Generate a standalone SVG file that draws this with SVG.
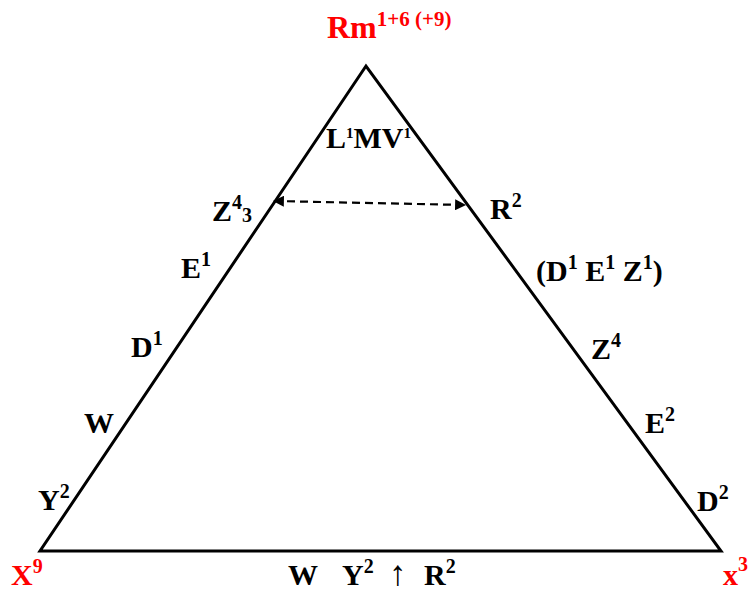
<svg xmlns="http://www.w3.org/2000/svg" width="750" height="592" viewBox="0 0 750 592">
  <style>
    text { font-family: "Liberation Serif", "Times New Roman", serif; font-weight: bold; }
    .lbl { font-size: 30px; fill: #000; }
    .red { fill: #ff0000; }
    .sup { font-size: 20px; }
  </style>
  <defs>
    <marker id="ah" viewBox="0 0 10 10" refX="9" refY="5" markerWidth="6.5" markerHeight="5" markerUnits="strokeWidth" orient="auto-start-reverse">
      <path d="M0,0 L10,5 L0,10 z" fill="#000"/>
    </marker>
  </defs>
  <rect width="750" height="592" fill="#fff"/>
  <g id="triangle">
    <polygon points="366,66 40,551 721,551" fill="none" stroke="#000" stroke-width="3"/>
  </g>
  <g id="connectors">
    <line x1="274" y1="201" x2="465" y2="205" stroke="#000" stroke-width="2.2" stroke-dasharray="8,5" marker-start="url(#ah)" marker-end="url(#ah)"/>
  </g>
  <g id="node-top">
    <text x="327" y="38" class="red" font-size="32">Rm<tspan font-size="21" dy="-12">1+6 (+9)</tspan></text>
  </g>
  <g id="node-lmv">
    <text x="326" y="148" class="lbl" font-size="25">L<tspan font-size="15" dy="-10">1</tspan><tspan dy="10">MV</tspan><tspan font-size="15" dy="-10">1</tspan></text>
  </g>
  <g id="node-z43">
    <text x="212" y="221" class="lbl">Z<tspan class="sup" dy="-12">4</tspan><tspan class="sup" dy="13">3</tspan></text>
  </g>
  <g id="node-r2">
    <text x="490" y="219" class="lbl">R<tspan class="sup" dy="-12">2</tspan></text>
  </g>
  <g id="node-e1">
    <text x="181" y="278" class="lbl">E<tspan class="sup" dy="-12">1</tspan></text>
  </g>
  <g id="node-dez">
    <text x="536" y="281" class="lbl">(D<tspan class="sup" dy="-12">1</tspan><tspan dy="12"> E</tspan><tspan class="sup" dy="-12">1</tspan><tspan dy="12"> Z</tspan><tspan class="sup" dy="-12">1</tspan><tspan dy="12">)</tspan></text>
  </g>
  <g id="node-d1">
    <text x="131" y="357" class="lbl">D<tspan class="sup" dy="-12">1</tspan></text>
  </g>
  <g id="node-z4">
    <text x="591" y="359" class="lbl">Z<tspan class="sup" dy="-12">4</tspan></text>
  </g>
  <g id="node-w-left">
    <text x="84" y="433" class="lbl">W</text>
  </g>
  <g id="node-e2">
    <text x="645" y="433" class="lbl">E<tspan class="sup" dy="-12">2</tspan></text>
  </g>
  <g id="node-y2">
    <text x="38" y="510" class="lbl">Y<tspan class="sup" dy="-12">2</tspan></text>
  </g>
  <g id="node-d2">
    <text x="697" y="511" class="lbl">D<tspan class="sup" dy="-12">2</tspan></text>
  </g>
  <g id="node-x9">
    <text x="11" y="585" class="lbl red">X<tspan class="sup" dy="-12">9</tspan></text>
  </g>
  <g id="node-x3">
    <text x="723" y="585" class="lbl red">x<tspan class="sup" dy="-14">3</tspan></text>
  </g>
  <g id="node-bottom">
    <text x="288" y="585" class="lbl">W</text>
    <text x="342" y="585" class="lbl">Y<tspan class="sup" dy="-12">2</tspan></text>
    <text x="389" y="585" font-family="'Liberation Serif', serif" font-weight="normal" font-size="35" fill="#000">↑</text>
    <text x="424" y="585" class="lbl">R<tspan class="sup" dy="-12">2</tspan></text>
  </g>
</svg>
